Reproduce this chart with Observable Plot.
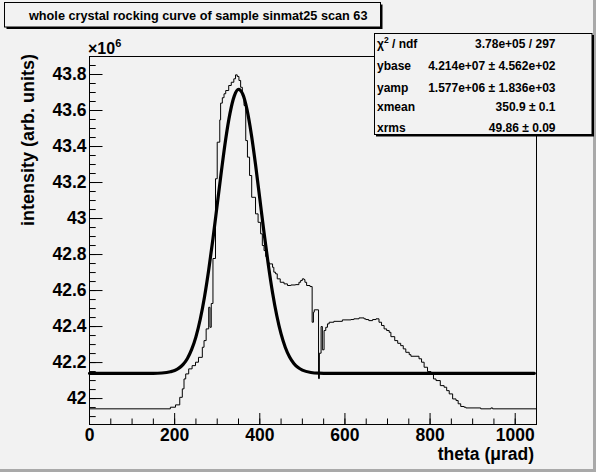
<!DOCTYPE html>
<html><head><meta charset="utf-8">
<script src="https://cdn.jsdelivr.net/npm/d3@7"></script>
<script src="https://cdn.jsdelivr.net/npm/@observablehq/plot@0.6"></script>
<style>
html,body{margin:0;padding:0;background:#f2f2f2;}
svg{display:block;}
</style></head><body><div id="chart"></div>
<script>
// ---- data (intensity in units of 1e6) ----
const histTheta = [0,190,202,212,218,222,226,233,241,249,256,265,269,274,280,283,286,290,296,300,306,308,312,316,320,327,333,339,343,347,351,355,359,363,367,371,376,381,390,396,402,406,410,414,418,422,430,433,437,441,448,457,465,473,484,492,496,500,504,506,510,518,523,526,528,538,540,544,547,551,555,559,563,574,594,614,621,633,645,649,656,665,673,680,686,692,698,704,708,717,724,731,737,743,751,755,774,780,786,794,802,808,814,824,833,839,845,853,861,866,872,880,884,919,943,947,1050];
const histIntensity = [41.943,41.952,41.965,42.007,42.054,42.109,42.137,42.165,42.183,42.202,42.229,42.285,42.322,42.387,42.507,42.396,42.528,42.778,43.221,43.424,43.548,43.641,43.671,43.693,43.711,43.739,43.757,43.776,43.798,43.789,43.767,43.729,43.683,43.628,43.433,43.341,43.239,43.118,43.026,42.979,42.915,42.850,42.822,42.789,42.756,42.748,42.729,42.702,42.693,42.665,42.646,42.637,42.628,42.631,42.633,42.646,42.656,42.665,42.661,42.646,42.628,42.622,42.424,42.480,42.493,42.111,42.252,42.400,42.271,42.378,42.396,42.415,42.424,42.429,42.437,42.439,42.443,42.448,42.443,42.439,42.433,42.439,42.443,42.424,42.406,42.387,42.378,42.368,42.344,42.322,42.307,42.294,42.276,42.257,42.244,42.235,42.221,42.202,42.174,42.150,42.141,42.109,42.100,42.072,42.063,42.044,42.026,41.998,41.989,41.971,41.956,41.952,41.948,41.943,41.948,41.943,41.943];
const fitTheta = [0,150,170,190,200,210,220,230,240,250,260,270,280,290,300,310,320,330,340,350,360,370,380,390,400,410,420,430,440,450,460,470,480,490,500,520,540,560,1045];
const fitIntensity = [42.140,42.140,42.142,42.149,42.156,42.169,42.190,42.223,42.273,42.343,42.439,42.563,42.714,42.888,43.077,43.266,43.442,43.584,43.680,43.717,43.691,43.605,43.470,43.300,43.111,42.921,42.744,42.588,42.460,42.359,42.284,42.231,42.195,42.172,42.158,42.145,42.141,42.140,42.140];
const xTicks = [0,200,400,600,800,1000];
const yTicks = [42,42.2,42.4,42.6,42.8,43,43.2,43.4,43.6,43.8];
const xMinorTicks = d3.range(0, 1051, 50);
const yMinorTicks = d3.range(0, 41).map(i => +(41.9 + i*0.05).toFixed(2));
const titleText = "whole crystal rocking curve of sample sinmat25 scan 63";
const xTitle = "theta (μrad)";
const yTitle = "intensity (arb. units)";
const statLabels = ["χ", "ybase", "yamp", "xmean", "xrms"];
const statValues = ["3.78e+05 / 297", "4.214e+07 ± 4.562e+02", "1.577e+06 ± 1.836e+03", "350.9 ± 0.1", "49.86 ± 0.09"];

const hist = histTheta.map((x, i) => ({theta: x, intensity: histIntensity[i]}));
const fit = fitTheta.map((x, i) => ({theta: x, intensity: fitIntensity[i]}));

const FONT = "Liberation Sans, Arial, Helvetica, sans-serif";
const BG = "#f2f2f2";

const chart = Plot.plot({
  width: 596, height: 472,
  marginLeft: 89, marginRight: 60, marginTop: 56, marginBottom: 48,
  style: {background: BG, fontFamily: FONT, fontWeight: "bold", overflow: "visible"},
  x: {domain: [0, 1050], label: null},
  y: {domain: [41.856, 43.9], label: null},
  marks: [
    Plot.line(hist, {x: "theta", y: "intensity", curve: "step-after", stroke: "black", strokeWidth: 1}),
    Plot.line(fit, {x: "theta", y: "intensity", curve: "monotone-x", stroke: "black", strokeWidth: 3.2}),
    Plot.axisX({ticks: xMinorTicks, tickSize: 5.5, dy: -5.5, tickFormat: () => "", label: null}),
    Plot.axisX({ticks: xTicks, tickSize: 11, dy: -11, tickFormat: () => "", label: null}),
    Plot.axisX({ticks: xTicks, tickSize: 0, tickPadding: 4, tickFormat: d => String(d), fontSize: 17.5, fontWeight: "bold", fontFamily: FONT, fill: "black", label: null}),
    Plot.axisY({ticks: yMinorTicks, tickSize: 6.7, dx: 6.7, tickFormat: () => "", label: null}),
    Plot.axisY({ticks: yTicks, tickSize: 13.5, dx: 13.5, tickFormat: () => "", label: null}),
    Plot.axisY({ticks: yTicks, tickSize: 0, tickPadding: 3, tickFormat: d => String(+d.toFixed(1)), fontSize: 17.5, fontWeight: "bold", fontFamily: FONT, fill: "black", label: null}),
    Plot.frame({stroke: "black", strokeWidth: 1})
  ]
});
document.getElementById("chart").appendChild(chart);

const svg = d3.select(chart);
const g = svg.append("g").attr("font-family", FONT).attr("font-weight", "bold").attr("fill", "black").attr("text-anchor", "start");

// canvas bevel
g.append("rect").attr("x", 0).attr("y", 469).attr("width", 596).attr("height", 3).attr("fill", "#a9a9a9");
g.append("rect").attr("x", 593).attr("y", 0).attr("width", 3).attr("height", 472).attr("fill", "#a9a9a9");

// title box with shadow
g.append("rect").attr("x", 6.5).attr("y", 4.5).attr("width", 376).attr("height", 24.5).attr("fill", "black");
g.append("rect").attr("x", 4.5).attr("y", 2.5).attr("width", 376).attr("height", 24.5).attr("fill", BG).attr("stroke", "black").attr("stroke-width", 1);
g.append("text").attr("x", 29).attr("y", 19.5).attr("font-size", 12.7).attr("text-anchor", "start").text(titleText);

// stats box with shadow
g.append("rect").attr("x", 376).attr("y", 35).attr("width", 218).attr("height", 101.5).attr("fill", "black");
g.append("rect").attr("x", 374.5).attr("y", 33.5).attr("width", 217.5).attr("height", 101).attr("fill", BG).attr("stroke", "black").attr("stroke-width", 1);
const rowY = [47.5, 69.5, 91.5, 111, 132];
statLabels.forEach((lab, i) => {
  const t = g.append("text").attr("x", 377).attr("y", rowY[i]).attr("font-size", 12).attr("text-anchor", "start");
  if (i === 0) {
    t.append("tspan").text(lab);
    t.append("tspan").attr("font-size", 8.5).attr("dy", -5).text("2");
    t.append("tspan").attr("dy", 5).text(" / ndf");
  } else {
    t.text(lab);
  }
  g.append("text").attr("x", 555.5).attr("y", rowY[i]).attr("font-size", 12).attr("text-anchor", "end").text(statValues[i]);
});

// x10^6 exponent
const ex = g.append("text").attr("x", 88).attr("y", 54).attr("font-size", 16).attr("text-anchor", "start");
ex.append("tspan").text("×10");
ex.append("tspan").attr("font-size", 11).attr("dy", -7.5).text("6");

// axis titles
g.append("text").attr("x", 534).attr("y", 460).attr("font-size", 17.5).attr("text-anchor", "end").text(xTitle);
g.append("text").attr("transform", "translate(33.5,54) rotate(-90)").attr("font-size", 18).attr("text-anchor", "end").text(yTitle);
</script>
</body></html>
